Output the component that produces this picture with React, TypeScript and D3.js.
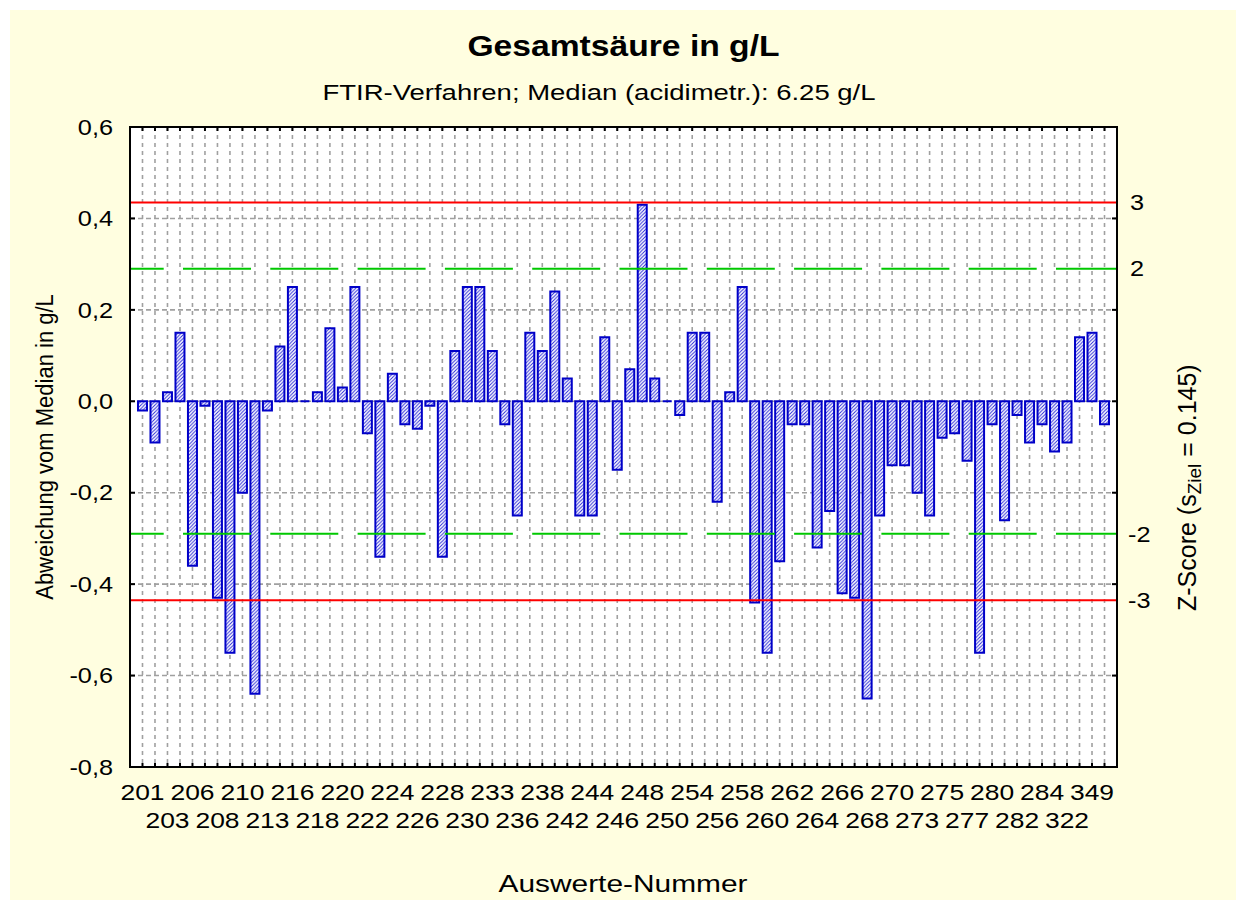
import React from "react";
import * as d3 from "d3";

const values: number[] = [
  -0.02, -0.09, 0.02, 0.15, -0.36, -0.01, -0.43, -0.55, -0.2, -0.64,
  -0.02, 0.12, 0.25, 0.0, 0.02, 0.16, 0.03, 0.25, -0.07, -0.34,
  0.06, -0.05, -0.06, -0.01, -0.34, 0.11, 0.25, 0.25, 0.11, -0.05,
  -0.25, 0.15, 0.11, 0.24, 0.05, -0.25, -0.25, 0.14, -0.15, 0.07,
  0.43, 0.05, 0.0, -0.03, 0.15, 0.15, -0.22, 0.02, 0.25, -0.44,
  -0.55, -0.35, -0.05, -0.05, -0.32, -0.24, -0.42, -0.43, -0.65, -0.25,
  -0.14, -0.14, -0.2, -0.25, -0.08, -0.07, -0.13, -0.55, -0.05, -0.26,
  -0.03, -0.09, -0.05, -0.11, -0.09, 0.14, 0.15, -0.05,
];

const tickLabels: string[] = [
  "201", "203", "206", "208", "210", "213", "216", "218", "220", "222",
  "224", "226", "228", "230", "233", "236", "238", "242", "244", "246",
  "248", "250", "254", "256", "258", "260", "262", "264", "266", "268",
  "270", "273", "275", "277", "280", "282", "284", "322", "349",
];

const yTicks: number[] = [0.6, 0.4, 0.2, 0.0, -0.2, -0.4, -0.6, -0.8];
const zScores: number[] = [3, 2, -2, -3];
const sZiel = 0.145;

const title = "Gesamtsäure in g/L";
const subtitle = "FTIR-Verfahren; Median (acidimetr.): 6.25 g/L";
const yTitle = "Abweichung vom Median in g/L";
const xTitle = "Auswerte-Nummer";

const W = 1246;
const H = 910;
const L = 130;
const R = 1117;
const T = 127;
const B = 767;

const FONT = "'Liberation Sans', Arial, Helvetica, sans-serif";
const BLUE = "#0000C8";

const locale = d3.formatLocale({
  decimal: ",",
  thousands: ".",
  grouping: [3],
  currency: ["", "€"],
  minus: "-",
});
const fmt = locale.format(".1f");

type STProps = {
  x: number;
  y: number;
  sx?: number;
  size: number;
  anchor?: "start" | "middle" | "end";
  weight?: string;
  dy?: string;
  children: React.ReactNode;
};

function SText({ x, y, sx = 1.2, size, anchor = "middle", weight, dy, children }: STProps) {
  return (
    <g transform={`translate(${x},${y}) scale(${sx},1)`}>
      <text
        x={0}
        y={0}
        dy={dy}
        textAnchor={anchor}
        fontSize={size}
        fontWeight={weight}
        fill="#000"
      >
        {children}
      </text>
    </g>
  );
}

export default function App() {
  const x = d3.scaleLinear().domain([0, values.length + 1]).range([L, R]);
  const y = d3.scaleLinear().domain([-0.8, 0.6]).range([B, T]);
  const barW = 9;
  const positions = values.map((_, i) => i + 1);

  return (
    <svg
      width={W}
      height={H}
      style={{ position: "absolute", left: 0, top: 0, background: "#ffffff" }}
      fontFamily={FONT}
    >
      <defs>
        <pattern id="hatch" patternUnits="userSpaceOnUse" width="3.5" height="3.5">
          <rect width="3.5" height="3.5" fill="#ffffff" />
          <path
            d="M-1,1 l2,-2 M0,3.5 l3.5,-3.5 M2.5,4.5 l2,-2"
            stroke="#2020D8"
            strokeWidth="0.9"
          />
        </pattern>
      </defs>
      <rect x={10} y={10} width={1226} height={890} fill="#FFFEE0" />
      <rect x={L} y={T} width={R - L} height={B - T} fill="#ffffff" />

      {/* vertical dotted grid */}
      {positions.map((p) => (
        <line
          key={"vg" + p}
          x1={x(p)}
          x2={x(p)}
          y1={T}
          y2={B}
          stroke="#A0A0A0"
          strokeWidth={1.6}
          strokeDasharray="4 4"
        />
      ))}
      {/* horizontal dashed grid */}
      {yTicks
        .filter((t) => t < 0.6 && t > -0.8)
        .map((t) => (
          <line
            key={"hg" + t}
            x1={L}
            x2={R}
            y1={y(t)}
            y2={y(t)}
            stroke="#A0A0A0"
            strokeWidth={1.6}
            strokeDasharray="5 3"
          />
        ))}

      {/* bars */}
      {values.map((v, i) => {
        const cx = x(i + 1);
        const y0 = y(0);
        const y1 = y(v);
        return (
          <path
            key={"b" + i}
            d={`M${cx - barW / 2},${y0}H${cx + barW / 2}V${y1}H${cx - barW / 2}Z`}
            fill="url(#hatch)"
            stroke={BLUE}
            strokeWidth={2}
          />
        );
      })}

      {/* reference lines */}
      {[2, -2].map((z) => (
        <line
          key={"g" + z}
          x1={L}
          x2={R}
          y1={y(z * sZiel)}
          y2={y(z * sZiel)}
          stroke="#00C800"
          strokeWidth={2}
          strokeDasharray="68 19.3"
          strokeDashoffset={34.3}
        />
      ))}
      {[3, -3].map((z) => (
        <line
          key={"r" + z}
          x1={L}
          x2={R}
          y1={y(z * sZiel)}
          y2={y(z * sZiel)}
          stroke="#FF0000"
          strokeWidth={2}
        />
      ))}

      {/* ticks */}
      {positions.map((p) => (
        <g key={"t" + p}>
          <line x1={x(p)} x2={x(p)} y1={T} y2={T + 4} stroke="#000" strokeWidth={2} />
          <line x1={x(p)} x2={x(p)} y1={B} y2={B - 4} stroke="#000" strokeWidth={2} />
        </g>
      ))}
      {yTicks.map((t) => (
        <g key={"yt" + t}>
          <line x1={L} x2={L + 5} y1={y(t)} y2={y(t)} stroke="#000" strokeWidth={2} />
          <line x1={R} x2={R - 5} y1={y(t)} y2={y(t)} stroke="#000" strokeWidth={2} />
          <SText x={113} y={y(t)} dy="0.35em" anchor="end" size={22} sx={1.15}>
            {fmt(t)}
          </SText>
        </g>
      ))}

      {/* frame */}
      <rect x={L} y={T} width={R - L} height={B - T} fill="none" stroke="#000" strokeWidth={2} />

      {/* x labels */}
      {tickLabels.map((lab, k) => (
        <SText
          key={"xl" + k}
          x={x(2 * k + 1)}
          y={k % 2 === 0 ? 800 : 828}
          size={22}
          sx={1.2}
        >
          {lab}
        </SText>
      ))}

      {/* right z labels */}
      {zScores.map((z) => (
        <SText
          key={"z" + z}
          x={z < 0 ? 1128 : 1130}
          y={y(z * sZiel)}
          dy="0.35em"
          anchor="start"
          size={22}
          sx={1.15}
        >
          {String(z)}
        </SText>
      ))}

      {/* titles */}
      <SText x={623.5} y={56} size={29} sx={1.16} weight="bold">
        {title}
      </SText>
      <SText x={599} y={100} size={22} sx={1.25}>
        {subtitle}
      </SText>
      <SText x={623} y={892} size={23} sx={1.3}>
        {xTitle}
      </SText>
      <text
        transform={`translate(53,${(T + B) / 2}) scale(1.12,1) rotate(-90)`}
        textAnchor="middle"
        fontSize={22}
        fill="#000"
      >
        {yTitle}
      </text>
      <text
        transform={`translate(1196,611) rotate(-90)`}
        textAnchor="start"
        fontSize={25}
        fill="#000"
      >
        Z-Score (s<tspan fontSize={19} dy={5}>Ziel</tspan>
        <tspan dy={-5}> = 0.145)</tspan>
      </text>
    </svg>
  );
}
